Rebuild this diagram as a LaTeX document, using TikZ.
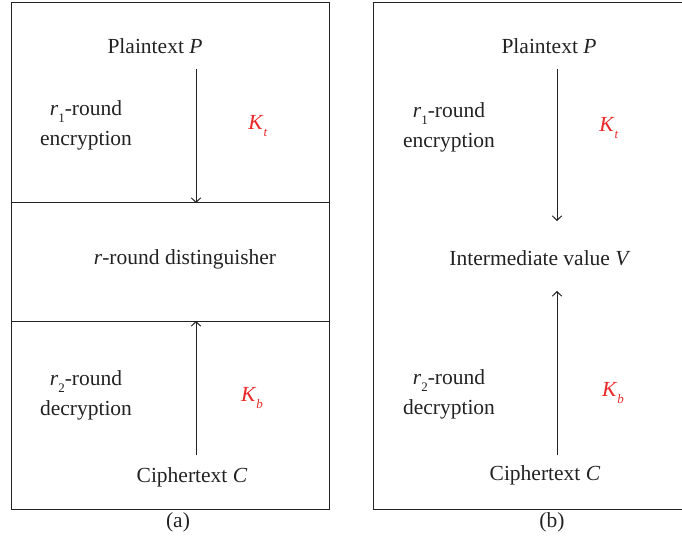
\documentclass[tikz,border=0pt]{standalone}
\usepackage{fontspec}
\setmainfont{Liberation Serif}
\usetikzlibrary{arrows.meta}
\definecolor{ink}{RGB}{34,34,34}
\definecolor{keyred}{RGB}{235,40,40}
\tikzset{
  frame/.style={draw=ink, line width=1pt},
  lbl/.style={inner sep=0pt, font=\fontsize{21.5}{30}\selectfont, text=ink},
  keylbl/.style={lbl, text=keyred},
  flow/.style={draw=ink, line width=1pt, -{Straight Barb[length=4.5pt,width=9.5pt,line width=1pt]}}
}
\newcommand{\subidx}[1]{\raisebox{-0.7ex}{\fontsize{13}{13}\selectfont #1}}
\begin{document}
\begin{tikzpicture}[x=1pt,y=-1pt]
\useasboundingbox (0,0) rectangle (682,545);

% ----- panel (a): three stacked sections -----
\draw[frame] (11,3) rectangle (329,509);
\draw[frame] (11,203) -- (329,203);
\draw[frame] (11,321) -- (329,321);

\node[lbl] (aP) at (155,46) {Plaintext \textit{P}};
\node[lbl, align=center] (aEnc) at (86,125) {\textit{r}\subidx{1}-round\\encryption};
\node[keylbl] (aKt) at (258,126) {\textit{K}\subidx{\textit{t}}};
\node[lbl] (aDist) at (185,259) {\textit{r}-round distinguisher};
\node[lbl, align=center] (aDec) at (86,395) {\textit{r}\subidx{2}-round\\decryption};
\node[keylbl] (aKb) at (252,398) {\textit{K}\subidx{\textit{b}}};
\node[lbl] (aC) at (192,477) {Ciphertext \textit{C}};
\node[lbl] (aCap) at (178,522) {(a)};

\coordinate (aTopS) at (196,69);
\coordinate (aTopE) at (196,203);
\coordinate (aBotS) at (196,455);
\coordinate (aBotE) at (196,321);
\draw[flow] (aTopS) -- (aTopE);
\draw[flow] (aBotS) -- (aBotE);

% ----- panel (b): meet in the middle -----
\draw[frame] (690,3) -- (373,3) -- (373,509) -- (690,509);

\node[lbl] (bP) at (549,46) {Plaintext \textit{P}};
\node[lbl, align=center] (bEnc) at (449,127) {\textit{r}\subidx{1}-round\\encryption};
\node[keylbl] (bKt) at (609,128) {\textit{K}\subidx{\textit{t}}};
\node[lbl] (bV) at (540,258) {Intermediate value \textit{V}};
\node[lbl, align=center] (bDec) at (449,394) {\textit{r}\subidx{2}-round\\decryption};
\node[keylbl] (bKb) at (613,393) {\textit{K}\subidx{\textit{b}}};
\node[lbl] (bC) at (545,475) {Ciphertext \textit{C}};
\node[lbl] (bCap) at (552,522) {(b)};

\coordinate (bTopS) at (557,69);
\coordinate (bTopE) at (557,221);
\coordinate (bBotS) at (557,455);
\coordinate (bBotE) at (557,291);
\draw[flow] (bTopS) -- (bTopE);
\draw[flow] (bBotS) -- (bBotE);
\end{tikzpicture}
\end{document}
